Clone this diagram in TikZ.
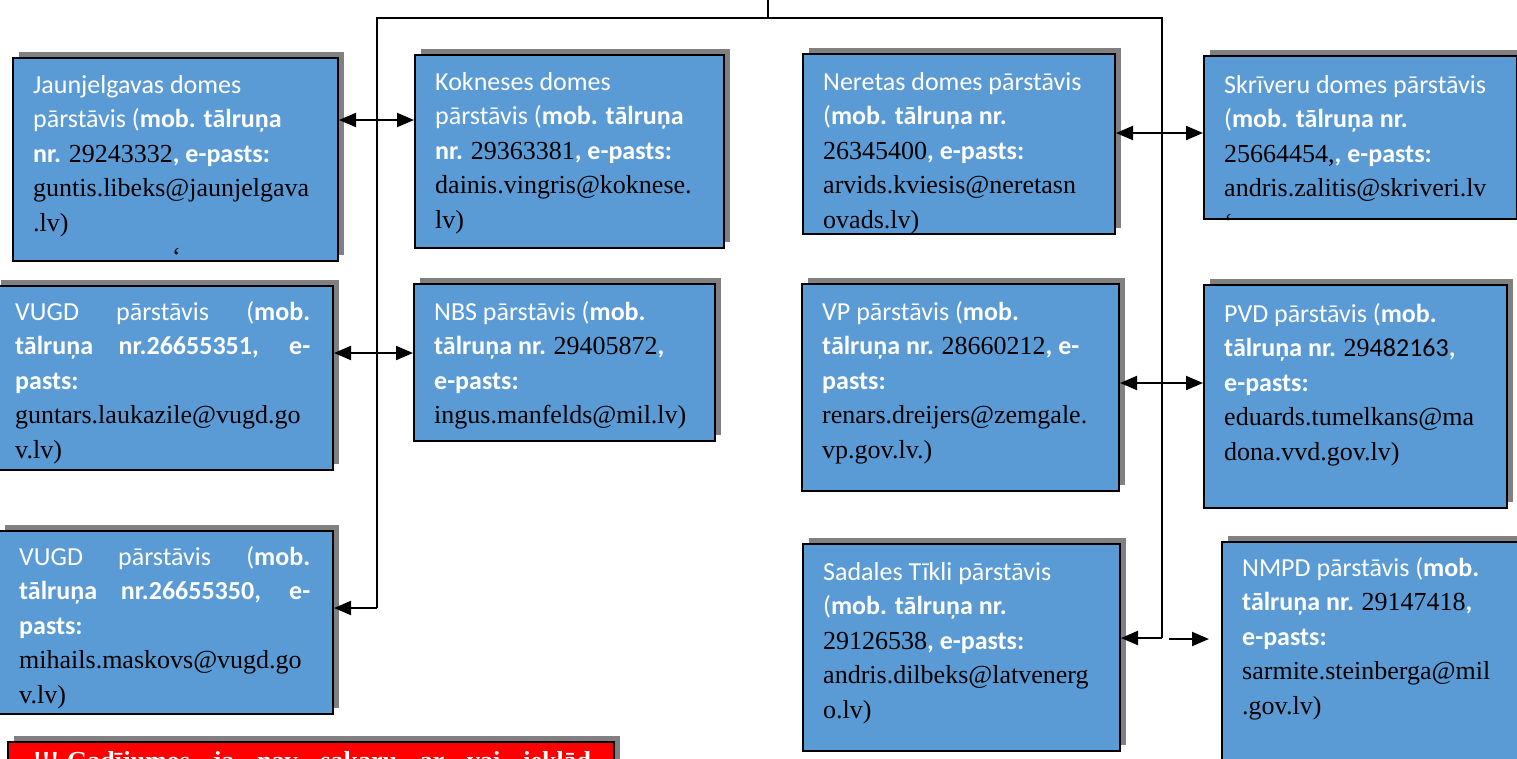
\documentclass[tikz,border=0pt]{standalone}
\usepackage{fontspec}
\setmainfont{Liberation Serif}
\newfontfamily\calfont{Carlito}
\usetikzlibrary{arrows.meta,shadows}
\definecolor{boxblue}{HTML}{5B9BD5}
\definecolor{shadowgray}{HTML}{808080}
\definecolor{alertred}{HTML}{FF0000}
\newcommand\Tm[1]{{\rmfamily\color{black}#1}}
\newcommand\Bw[1]{\textbf{#1}}
\tikzset{
  box/.style={draw=black, line width=2pt, fill=boxblue, inner sep=0pt, anchor=north west,
    general shadow={fill=shadowgray, shadow xshift=6pt, shadow yshift=6pt}},
  txt/.style={anchor=north west, inner sep=0pt, align=left, text=white,
    font=\calfont\fontsize{26}{34.5}\selectfont},
  link/.style={line width=2pt},
  arr/.style={line width=2pt, -{Triangle[length=17pt,width=14pt]}},
  dbl/.style={line width=2pt, {Triangle[length=17pt,width=14pt]}-{Triangle[length=17pt,width=14pt]}}
}
\begin{document}
\begin{tikzpicture}[x=1pt,y=-1pt]
\useasboundingbox (0,0) rectangle (1517,758);
\clip (0,0) rectangle (1517,758);
\fill[white] (0,0) rectangle (1517,758);

% boxes
\node[box, minimum width=325pt, minimum height=203pt] (b1) at (12,57) {};
\node[box, minimum width=309pt, minimum height=193pt] (b2) at (414,54) {};
\node[box, minimum width=312pt, minimum height=180pt] (b3) at (802,53) {};
\node[box, minimum width=313pt, minimum height=163pt] (b4) at (1203,55) {};
\node[box, minimum width=338pt, minimum height=184pt] (b5) at (-6,285) {};
\node[box, minimum width=301pt, minimum height=157pt] (b6) at (413,283) {};
\node[box, minimum width=317pt, minimum height=207pt] (b7) at (801,283) {};
\node[box, minimum width=303pt, minimum height=223pt] (b8) at (1203,284) {};
\node[box, minimum width=334pt, minimum height=183pt] (b9) at (-2,530) {};
\node[box, minimum width=317pt, minimum height=207pt] (b10) at (802,543) {};
\node[box, minimum width=320pt, minimum height=260pt] (b11) at (1221,541) {};
\node[box, fill=alertred, minimum width=606pt, minimum height=100pt] (red) at (7,741) {};

% texts
\node[txt] (t1) at ([shift={(21,12)}]b1.north west) {\strut Jaunjelgavas domes\\
pārstāvis (\Bw{mob. tālruņa}\\
\Bw{nr.} \Tm{29243332}\Bw{, e-pasts:}\\
\Tm{guntis.libeks@jaunjelgava}\\
\Tm{.lv)}\\
\hspace*{139pt}\Tm{\symbol{96}}};
\node[txt] (t2) at ([shift={(21,12)}]b2.north west) {\strut Kokneses domes\\
pārstāvis (\Bw{mob. tālruņa}\\
\Bw{nr.} \Tm{29363381}\Bw{, e-pasts:}\\
\Tm{dainis.vingris@koknese.}\\
\Tm{lv)}};
\node[txt] (t3) at ([shift={(21,13)}]b3.north west) {\strut Neretas domes pārstāvis\\
(\Bw{mob. tālruņa nr.}\\
\Tm{26345400}\Bw{, e-pasts:}\\
\Tm{arvids.kviesis@neretasn}\\
\Tm{ovads.lv)}};
\node[txt] (t4) at ([shift={(21,14)}]b4.north west) {\strut Skrīveru domes pārstāvis\\
(\Bw{mob. tālruņa nr.}\\
\Tm{25664454,}\Bw{, e-pasts:}\\
\Tm{andris.zalitis@skriveri.lv}\\
\Tm{\symbol{96}}};
\node[txt] (t5) at ([shift={(21,11)}]b5.north west) {\strut\makebox[295pt][s]{VUGD pārstāvis (\Bw{mob.}}\\
\makebox[295pt][s]{\Bw{tālruņa nr.26655351, e-}}\\
\Bw{pasts:}\\
\Tm{guntars.laukazile@vugd.go}\\
\Tm{v.lv)}};
\node[txt] (t6) at ([shift={(21,13)}]b6.north west) {\strut NBS pārstāvis (\Bw{mob.}\\
\Bw{tālruņa nr.} \Tm{29405872}\Bw{,}\\
\Bw{e-pasts:}\\
\Tm{ingus.manfelds@mil.lv)}};
\node[txt] (t7) at ([shift={(21,13)}]b7.north west) {\strut VP pārstāvis (\Bw{mob.}\\
\Bw{tālruņa nr.} \Tm{28660212}\Bw{, e-}\\
\Bw{pasts:}\\
\Tm{renars.dreijers@zemgale.}\\
\Tm{vp.gov.lv.)}};
\node[txt] (t8) at ([shift={(21,14)}]b8.north west) {\strut PVD pārstāvis (\Bw{mob.}\\
\Bw{tālruņa nr.} \Tm{29}{\color{black}482163}\Bw{,}\\
\Bw{e-pasts:}\\
\Tm{eduards.tumelkans@ma}\\
\Tm{dona.vvd.gov.lv)}};
\node[txt] (t9) at ([shift={(21,11)}]b9.north west) {\strut\makebox[291pt][s]{VUGD pārstāvis (\Bw{mob.}}\\
\makebox[291pt][s]{\Bw{tālruņa nr.26655350, e-}}\\
\Bw{pasts:}\\
\Tm{mihails.maskovs@vugd.go}\\
\Tm{v.lv)}};
\node[txt] (t10) at ([shift={(21,13)}]b10.north west) {\strut Sadales Tīkli pārstāvis\\
(\Bw{mob. tālruņa nr.}\\
\Tm{29126538}\Bw{, e-pasts:}\\
\Tm{andris.dilbeks@latvenerg}\\
\Tm{o.lv)}};
\node[txt] (t11) at ([shift={(21,11)}]b11.north west) {\strut NMPD pārstāvis (\Bw{mob.}\\
\Bw{tālruņa nr.} \Tm{29147418}\Bw{,}\\
\Bw{e-pasts:}\\
\Tm{sarmite.steinberga@mil}\\
\Tm{.gov.lv)}};
\node[anchor=base west, inner sep=0pt, text=white, font=\fontsize{26}{30}\selectfont\bfseries]
  (rt) at ([shift={(26,28)}]red.north west) {\makebox[558pt][s]{!!!\kern8pt Gadījumos ja nav sakaru ar vai iekļād}};

% connectors
\coordinate (top) at (768,0);
\coordinate (tj) at (768,18);
\coordinate (Lt) at (377,18);
\coordinate (Rt) at (1162,18);
\coordinate (Lb) at (377,608);
\coordinate (Rb) at (1162,638);
\coordinate (h1) at (377,120);
\coordinate (h2) at (377,353);
\coordinate (h3) at (1162,133);
\coordinate (h4) at (1162,383);
\coordinate (Rs) at (1169,639);
\coordinate (Re) at (1209,639);

\draw[link] (top) -- (tj);
\draw[link] (Lb) -- (Lt) -- (Rt) -- (Rb);
\draw[dbl] (b1.east |- h1) -- (b2.west |- h1);
\draw[dbl] (b5.east |- h2) -- (b6.west |- h2);
\draw[arr] (Lb) -- (b9.east |- Lb);
\draw[dbl] (b3.east |- h3) -- (b4.west |- h3);
\draw[dbl] (b7.east |- h4) -- (b8.west |- h4);
\draw[arr] (Rb) -- (b10.east |- Rb);
\draw[arr] (Rs) -- (Re);
\end{tikzpicture}
\end{document}
